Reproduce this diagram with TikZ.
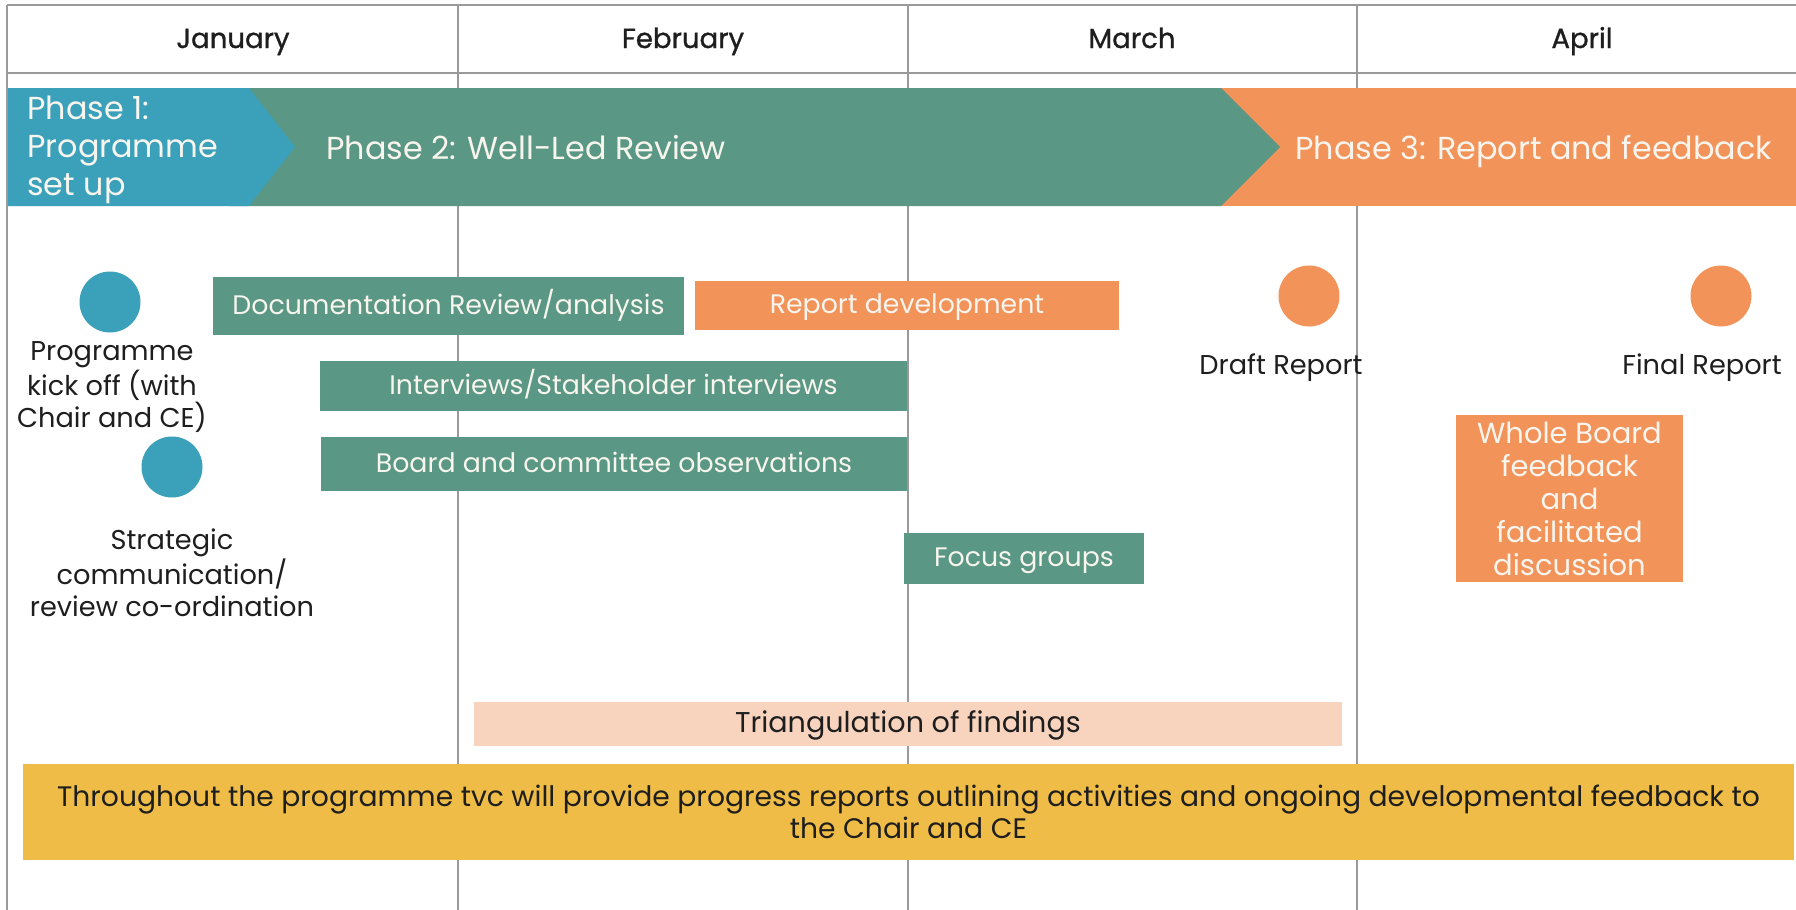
\documentclass[tikz,border=0pt]{standalone}
\usepackage{fontspec}
\setmainfont{Poppins}
\newfontfamily\headfont[FakeBold=1]{Poppins}
\definecolor{phblue}{HTML}{3BA0BA}
\definecolor{phgreen}{HTML}{5A9784}
\definecolor{phorange}{HTML}{F2935A}
\definecolor{phpeach}{HTML}{F8D4BF}
\definecolor{phyellow}{HTML}{EEBC47}
\definecolor{gridgray}{HTML}{9A9A9A}
\definecolor{lighttext}{HTML}{F7F5EE}
\definecolor{darktext}{HTML}{1E1E1E}
\begin{document}
\begin{tikzpicture}[x=0.5pt,y=-0.5pt,
  gridline/.style={draw=gridgray,line width=1pt},
  month/.style={text=darktext,font=\headfont\fontsize{13.8}{16}\selectfont,inner sep=0pt,anchor=base},
  phasetext/.style={text=lighttext,font=\fontsize{15.9}{19}\selectfont,inner sep=0pt,align=left,anchor=base west},
  barbox/.style={inner sep=0pt,text=lighttext,font=\fontsize{13.4}{16.5}\selectfont,align=center},
  oneline/.style={text height=0.94em,text depth=0.1em},
  gbar/.style={barbox,oneline,fill=phgreen},
  obar/.style={barbox,oneline,fill=phorange},
  dot/.style={circle,minimum size=30.5pt,inner sep=0pt},
  label/.style={text=darktext,font=\fontsize{13.6}{16}\selectfont,align=center,inner sep=0pt}]
\useasboundingbox (0,0) rectangle (1796,910);
\fill[white] (0,0) rectangle (1796,910);
% grid
\draw[gridline] (7,5) -- (1796,5);
\draw[gridline] (7,73) -- (1796,73);
\draw[gridline] (7,5) -- (7,910);
\draw[gridline] (458,5) -- (458,910);
\draw[gridline] (908,5) -- (908,910);
\draw[gridline] (1357,5) -- (1357,910);
% months
\node[month] (jan) at (233,48) {January};
\node[month] (feb) at (683,48) {February};
\node[month] (mar) at (1132,48) {March};
\node[month] (apr) at (1582,48) {April};
% phase band
\fill[phorange] (1200,88) rectangle (1796,206);
\fill[phgreen] (230,88) -- (1221,88) -- (1280,147) -- (1221,206) -- (230,206) -- cycle;
\fill[phblue] (8,88) -- (249,88) -- (295,147) -- (249,206) -- (8,206) -- cycle;
\node[phasetext] (p1) at (27,195) {Phase 1:\\Programme\\set up};
\node[phasetext] (p2) at (326,159) {Phase 2: Well-Led Review};
\node[phasetext] (p3) at (1295,159) {Phase 3: Report and feedback};
% bars
\node[gbar,minimum width=235.5pt,minimum height=29pt] (doc) at (448.5,306) {Documentation Review/analysis};
\node[obar,minimum width=212pt,minimum height=24.5pt] (rep) at (907,305.5) {Report development};
\node[gbar,minimum width=293.5pt,minimum height=25pt] (intv) at (613.5,386) {Interviews/Stakeholder interviews};
\node[gbar,minimum width=293pt,minimum height=27pt] (board) at (614,464) {Board and committee observations};
\node[gbar,minimum width=120pt,minimum height=25.5pt] (focus) at (1024,558.5) {Focus groups};
\node[barbox,fill=phorange,font=\fontsize{14.5}{16.5}\selectfont,minimum width=113.5pt,minimum height=83.5pt] (whole) at (1569.5,498.5) {Whole Board\\feedback\\and\\facilitated\\discussion};
\node[barbox,oneline,fill=phpeach,text=darktext,font=\fontsize{14.3}{16.5}\selectfont,minimum width=434pt,minimum height=22pt] (tri) at (908,724) {Triangulation of findings};
\node[barbox,fill=phyellow,text=darktext,font=\fontsize{14.1}{16}\selectfont,minimum width=885.5pt,minimum height=48pt] (thr) at (908.5,812) {Throughout the programme tvc will provide progress reports outlining activities and ongoing developmental feedback to\\the Chair and CE};
% milestones
\node[dot,fill=phblue] (kick) at (110,302) {};
\node[dot,fill=phblue] (strat) at (172,467) {};
\node[dot,fill=phorange] (draft) at (1309,296) {};
\node[dot,fill=phorange] (final) at (1721,296) {};
\node[label] (kickl) at (112,387) {Programme\\kick off (with\\Chair and CE)};
\node[label] (stratl) at (172,573) {Strategic\\communication/\\review co-ordination};
\node[label] (draftl) at (1281,368) {Draft Report};
\node[label] (finall) at (1702,368) {Final Report};
\end{tikzpicture}
\end{document}
